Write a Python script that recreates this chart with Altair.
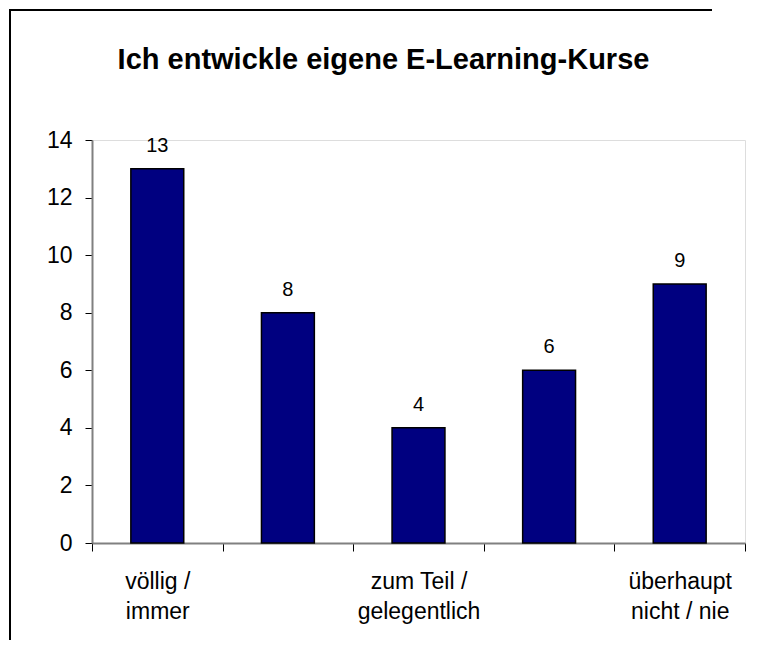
import altair as alt
import pandas as pd

categories = ["völlig /|immer", "2", "zum Teil /|gelegentlich", "4", "überhaupt|nicht / nie"]
values = [13, 8, 4, 6, 9]
title_text = "Ich entwickle eigene E-Learning-Kurse"

df = pd.DataFrame({"cat": categories, "val": values})
FONT = "Liberation Sans"

x_enc = alt.X(
    "cat:N",
    sort=categories,
    title=None,
    scale=alt.Scale(paddingInner=0, paddingOuter=0),
    axis=alt.Axis(
        labelAngle=0,
        tickBand="extent",
        tickSize=8,
        tickColor="black",
        domainColor="#808080",
        domainWidth=2,
        labelFont=FONT,
        labelFontSize=23,
        labelColor="black",
        labelBaseline="alphabetic",
        labelLineHeight=30,
        labelPadding=37,
        labelExpr="indexof(datum.label, '|') >= 0 ? split(datum.label, '|') : ''",
    ),
)
y_enc = alt.Y(
    "val:Q",
    title=None,
    scale=alt.Scale(domain=[0, 14]),
    axis=alt.Axis(
        values=[0, 2, 4, 6, 8, 10, 12, 14],
        grid=False,
        tickSize=7,
        tickColor="black",
        domainColor="#808080",
        domainWidth=2,
        labelFont=FONT,
        labelFontSize=23,
        labelColor="black",
        labelPadding=13,
    ),
)

base = alt.Chart(df)
bars = base.mark_bar(
    color="#000080", stroke="black", strokeWidth=1.5,
    width=alt.RelativeBandSize(0.405),
).encode(x=x_enc, y=y_enc)
labels = base.mark_text(
    font=FONT, fontSize=20, color="black", baseline="alphabetic", dy=-17
).encode(x=alt.X("cat:N", sort=categories), y="val:Q", text="val:Q")

frame_data = alt.Data(values=[{}])
frame_left = alt.Chart(frame_data).mark_rule(color="black", strokeWidth=2).encode(
    x=alt.value(-82), y=alt.value(-131), y2=alt.value(500)
)
frame_top = alt.Chart(frame_data).mark_rule(color="black", strokeWidth=2).encode(
    x=alt.value(-83), x2=alt.value(620), y=alt.value(-130)
)

chart = alt.layer(bars, labels, frame_left, frame_top).properties(
    width=653,
    height=403,
    autosize=alt.AutoSizeParams(type="none"),
    padding={"left": 84, "top": 132, "right": 7, "bottom": 97},
    title=alt.TitleParams(
        title_text,
        font=FONT,
        fontSize=29,
        fontWeight="bold",
        color="black",
        anchor="middle",
        frame="group",
        baseline="alphabetic",
        offset=0,
        dy=90,
        dx=-35,
    ),
).configure_view(stroke="#808080", strokeWidth=2).configure(background="white")

chart.save("out.html", embed_options={"renderer": "svg", "actions": False})
